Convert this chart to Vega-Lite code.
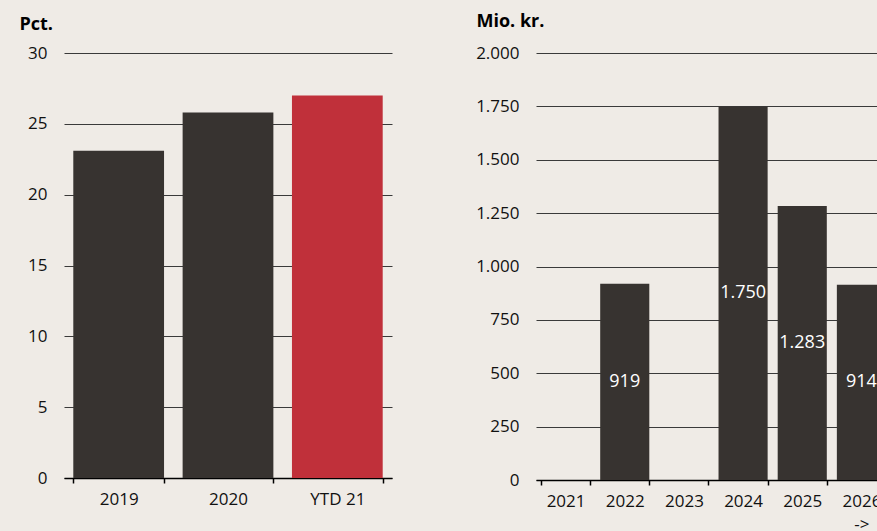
{
  "$schema": "https://vega.github.io/schema/vega-lite/v6.json",
  "background": "#efebe6",
  "padding": {"left": 19, "top": 12, "right": 0, "bottom": 0},
  "spacing": 83,
  "config": {
    "locale": {"number": {"decimal": ",", "thousands": ".", "grouping": [3], "currency": ["", ""]}},
    "view": {"stroke": null},
    "font": "Open Sans",
    "axis": {
      "labelFont": "Open Sans",
      "labelFontSize": 17,
      "labelColor": "#111111",
      "titleFont": "Open Sans",
      "titleFontSize": 18,
      "titleFontWeight": "bold",
      "titleColor": "#000000",
      "gridColor": "#3a3a3a",
      "gridOpacity": 1,
      "gridWidth": 1
    }
  },
  "hconcat": [
    {
      "width": 328,
      "height": 425,
      "data": {"values": [
        {"year": "2019", "value": 23.1, "type": "past"},
        {"year": "2020", "value": 25.8, "type": "past"},
        {"year": "YTD 21", "value": 27.0, "type": "current"}
      ]},
      "mark": {"type": "bar"},
      "encoding": {
        "x": {
          "field": "year", "type": "nominal", "sort": null,
          "scale": {"paddingInner": 0.17},
          "axis": {"title": null, "labelAngle": 0, "tickBand": "extent", "grid": false,
            "domainColor": "#000000", "domainWidth": 1.5, "tickColor": "#000000", "tickWidth": 1.5,
            "tickSize": 5, "labelPadding": 8}
        },
        "y": {
          "field": "value", "type": "quantitative",
          "scale": {"domain": [0, 30]},
          "axis": {"values": [0, 5, 10, 15, 20, 25, 30], "title": "Pct.", "titleAngle": 0,
            "titleX": -45, "titleY": -24, "titleAlign": "left", "titleBaseline": "alphabetic",
            "domain": false, "ticks": false, "labelPadding": 17}
        },
        "color": {
          "field": "type", "type": "nominal",
          "scale": {"domain": ["past", "current"], "range": ["#373330", "#c0303a"]},
          "legend": null
        }
      }
    },
    {
      "width": 355,
      "height": 427,
      "data": {"values": [
        {"year": "2021", "value": null},
        {"year": "2022", "value": 919},
        {"year": "2023", "value": null},
        {"year": "2024", "value": 1750},
        {"year": "2025", "value": 1283},
        {"year": "2026 ->", "value": 914}
      ]},
      "encoding": {
        "x": {
          "field": "year", "type": "nominal", "sort": null,
          "scale": {"domain": ["2021", "2022", "2023", "2024", "2025", "2026 ->"], "paddingInner": 0.17},
          "axis": {"title": null, "labelAngle": 0, "tickBand": "extent", "grid": false,
            "labelExpr": "split(datum.label, ' ')",
            "domainColor": "#000000", "domainWidth": 1.5, "tickColor": "#000000", "tickWidth": 1.5,
            "tickSize": 5, "labelPadding": 8, "labelLineHeight": 23}
        }
      },
      "layer": [
        {
          "mark": {"type": "bar", "color": "#373330"},
          "encoding": {
            "y": {
              "field": "value", "type": "quantitative",
              "scale": {"domain": [0, 2000]},
              "axis": {"values": [0, 250, 500, 750, 1000, 1250, 1500, 1750, 2000], "format": ",d",
                "title": "Mio. kr.", "titleAngle": 0,
                "titleX": -60, "titleY": -27, "titleAlign": "left", "titleBaseline": "alphabetic",
                "domain": false, "ticks": false, "labelPadding": 17}
            }
          }
        },
        {
          "mark": {"type": "text", "color": "#ffffff", "fontSize": 18, "baseline": "middle", "font": "Open Sans"},
          "encoding": {
            "y": {"field": "value", "type": "quantitative", "scale": {"domain": [0, 4000]}, "axis": null},
            "text": {"field": "value", "type": "quantitative", "format": ",d"}
          }
        }
      ],
      "resolve": {"scale": {"y": "independent"}}
    }
  ]
}
